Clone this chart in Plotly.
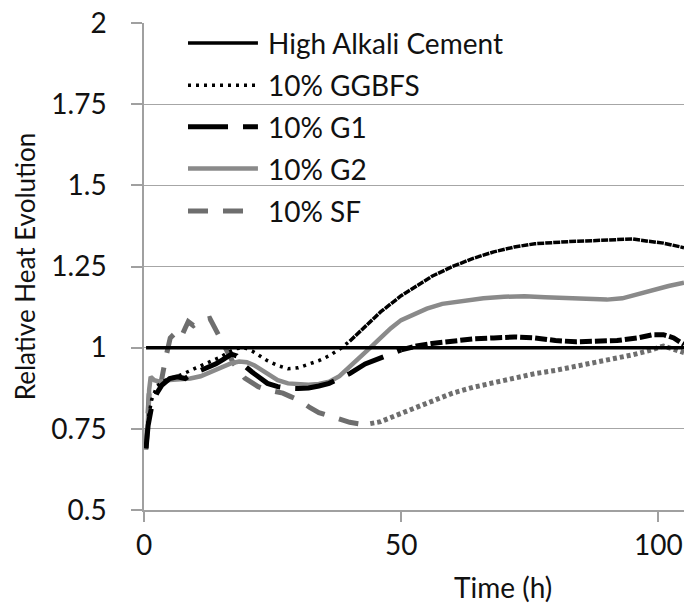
import plotly.graph_objects as go

# ---- data ----
series_names = ["High Alkali Cement", "10% GGBFS", "10% G1", "10% G2", "10% SF"]

hac_x = [0.4, 105]
hac_y = [1.0, 1.0]

ggbfs_x = [0.4, 0.8, 1.5, 2.5, 3.5, 5, 7, 9, 11, 13, 15, 16.5, 18, 19.5, 21, 22.5, 24, 26, 28, 30,
           32, 34, 36, 38, 40, 42, 44, 46, 48, 50, 53, 56, 60, 64, 68, 72, 76, 80, 84, 88, 92, 95,
           98, 101, 103, 105]
ggbfs_y = [0.69, 0.78, 0.84, 0.88, 0.895, 0.905, 0.915, 0.93, 0.945, 0.958, 0.972, 0.987, 0.997, 1.0,
           0.99, 0.975, 0.96, 0.945, 0.935, 0.938, 0.948, 0.96, 0.975, 0.995, 1.02, 1.05, 1.08, 1.11,
           1.135, 1.16, 1.19, 1.22, 1.25, 1.275, 1.295, 1.31, 1.32, 1.325, 1.328, 1.33, 1.334, 1.335,
           1.328, 1.322, 1.315, 1.308]

g1_x = [0.4, 0.8, 1.5, 2.5, 3.5, 5, 6.5, 8, 9.5, 11, 12.5, 14, 15.5, 17, 18, 19.5, 21, 22.5, 24, 26,
        28, 30, 32, 34, 36, 38, 40, 43, 46, 50, 53, 56, 60, 64, 68, 72, 76, 80, 84, 88, 92, 96, 99,
        101, 103, 105]
g1_y = [0.69, 0.76, 0.82, 0.86, 0.885, 0.905, 0.91, 0.905, 0.92, 0.93, 0.94, 0.95, 0.965, 0.98, 0.975,
        0.945, 0.925, 0.905, 0.89, 0.88, 0.875, 0.874, 0.876, 0.882, 0.89, 0.905, 0.92, 0.95, 0.97,
        0.993, 1.005, 1.013, 1.02, 1.027, 1.03, 1.033, 1.03, 1.022, 1.018, 1.02, 1.022, 1.03, 1.04,
        1.04, 1.03, 1.01]

g2_x = [0.4, 0.7, 1.0, 1.3, 2, 3, 5, 7, 9, 11, 13, 15, 17, 18.5, 20, 21.5, 23, 24.5, 26, 28, 30, 32,
        34, 36, 38, 40, 42, 44, 46, 48, 50, 52, 55, 58, 62, 66, 70, 74, 78, 82, 86, 90, 93, 96, 99,
        102, 105]
g2_y = [0.685, 0.75, 0.87, 0.91, 0.9, 0.895, 0.9, 0.902, 0.905, 0.912, 0.925, 0.94, 0.952, 0.957,
        0.955, 0.945, 0.93, 0.915, 0.9, 0.89, 0.887, 0.886, 0.888, 0.895, 0.912, 0.94, 0.97, 1.0,
        1.03, 1.06, 1.085, 1.1, 1.12, 1.135, 1.145, 1.152, 1.157, 1.158, 1.155, 1.152, 1.15, 1.148,
        1.152, 1.165, 1.178, 1.19, 1.2]

sf_x = [0.4, 0.7, 1.0, 1.5, 2.2, 2.9, 3.4, 4.3, 5.1, 6.4, 7.3, 8.0, 8.6, 9.6, 10.9, 12.8, 14.5, 16.1,
        17.4, 19.6, 22.2, 24, 27, 28.4, 30.4, 32.3, 34, 36, 38, 40, 42, 44, 46, 48, 50, 53, 56, 60,
        64, 68, 72, 76, 80, 84, 88, 92, 95, 98, 101, 103, 105]
sf_y = [0.69, 0.78, 0.86, 0.885, 0.88, 0.885, 0.9, 0.974, 1.03, 1.05, 1.035, 1.06, 1.08, 1.068,
        1.082, 1.09, 1.04, 0.99, 0.952, 0.906, 0.88, 0.87, 0.86, 0.85, 0.836, 0.815, 0.80, 0.79,
        0.778, 0.77, 0.765, 0.766, 0.772, 0.785, 0.798, 0.815, 0.835, 0.86, 0.878, 0.893, 0.907,
        0.92, 0.93, 0.942, 0.955, 0.968, 0.978, 0.99, 1.005, 0.995, 0.985]

y_ticks = [0.5, 0.75, 1.0, 1.25, 1.5, 1.75, 2.0]
y_ticktext = ["0.5", "0.75", "1", "1.25", "1.5", "1.75", "2"]
x_ticks = [0, 50, 100]

# ---- styles ----
FONT = "Lato, 'Open Sans', sans-serif"
styles = [
    dict(color="#000000", width=3.5, dash="solid"),
    dict(color="#000000", width=3.5, dash="3px,5px"),
    dict(color="#000000", width=5, dash="40px,15px"),
    dict(color="#8a8a8a", width=4.5, dash="solid"),
    dict(color="#6e6e6e", width=5, dash="20px,15px"),
]
# in the reference the noisy late parts of the patterned curves render much denser
late_dash = [None, "7px,1px", "12px,3px", None, "4px,3px"]
late_from = [None, 40, 52, None, 45]
data = [(hac_x, hac_y), (ggbfs_x, ggbfs_y), (g1_x, g1_y), (g2_x, g2_y), (sf_x, sf_y)]

fig = go.Figure()
order = [4, 3, 2, 1, 0]
for i in order:
    xs, ys = data[i]
    if late_from[i] is None:
        fig.add_trace(go.Scatter(x=xs, y=ys, mode="lines", name=series_names[i],
                                 line=styles[i], showlegend=False, hoverinfo="skip"))
    else:
        cut = late_from[i]
        ex = [x for x in xs if x <= cut]
        ey = ys[:len(ex)]
        lx = xs[len(ex) - 1:]
        ly = ys[len(ex) - 1:]
        fig.add_trace(go.Scatter(x=ex, y=ey, mode="lines", name=series_names[i],
                                 line=styles[i], showlegend=False, hoverinfo="skip"))
        late_style = dict(styles[i], dash=late_dash[i])
        fig.add_trace(go.Scatter(x=lx, y=ly, mode="lines", name=series_names[i],
                                 line=late_style, showlegend=False, hoverinfo="skip"))

# ---- legend drawn manually (long sample lines as in the reference) ----
legend_rows_y = [0.959, 0.872, 0.787, 0.701, 0.614]
for name, st, yy in zip(series_names, styles, legend_rows_y):
    fig.add_shape(type="line", xref="paper", yref="paper", x0=0.0815, x1=0.211, y0=yy, y1=yy,
                  line=dict(color=st["color"], width=st["width"], dash=st["dash"]))
    fig.add_annotation(xref="paper", yref="paper", x=0.226, y=yy, text=name, showarrow=False,
                       xanchor="left", yanchor="middle",
                       font=dict(family=FONT, size=28, color="#111111"))

fig.add_annotation(xref="paper", yref="paper", x=0.665, y=-0.158, text="Time (h)", showarrow=False,
                   xanchor="center", yanchor="middle", font=dict(family=FONT, size=28, color="#111111"))

fig.update_layout(
    width=684, height=605,
    margin=dict(l=144, r=0, t=23, b=95),
    paper_bgcolor="white", plot_bgcolor="white",
    font=dict(family=FONT, color="#111111"),
    showlegend=False,
    xaxis=dict(range=[0, 105], tickvals=x_ticks, showgrid=False, zeroline=False,
               showline=True, linecolor="#a0a0a0", linewidth=1.5,
               ticks="outside", ticklen=10, tickcolor="#a0a0a0", tickwidth=1.5,
               tickfont=dict(family=FONT, size=28, color="#111111")),
    yaxis=dict(range=[0.5, 2.0], tickvals=y_ticks, ticktext=y_ticktext, showgrid=True,
               gridcolor="#a6a6a6", gridwidth=1.2, zeroline=False,
               showline=True, linecolor="#a0a0a0", linewidth=1.5,
               ticks="outside", ticklen=11, tickcolor="#a0a0a0", tickwidth=1.5,
               ticklabelstandoff=19,
               tickfont=dict(family=FONT, size=28, color="#111111"),
               title=dict(text="Relative Heat Evolution", standoff=8,
                          font=dict(family=FONT, size=26, color="#111111"))),
)

fig.write_html("out.html")
